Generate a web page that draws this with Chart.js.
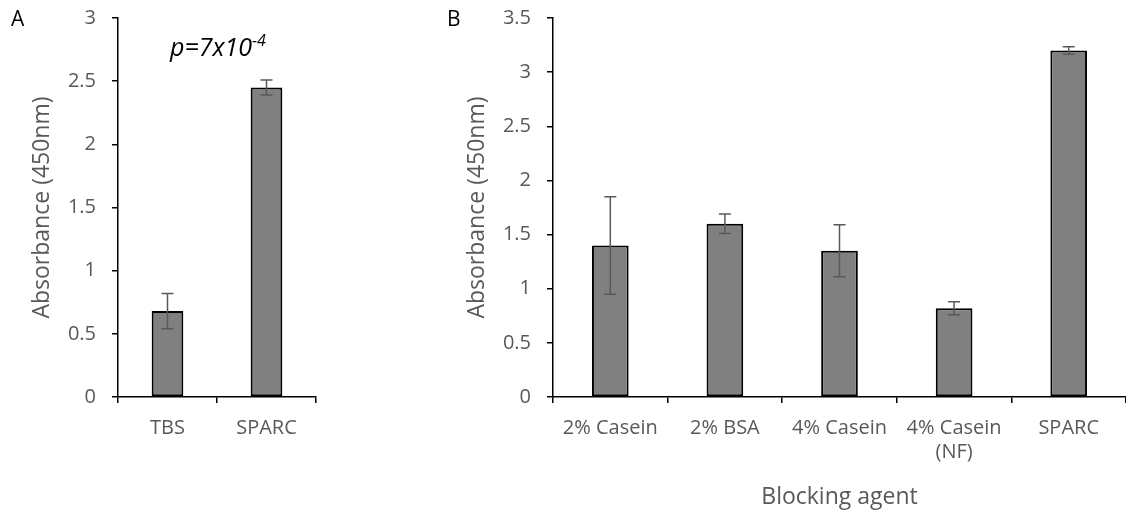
<!DOCTYPE html>
<html>
<head>
<meta charset="utf-8">
<script src="https://cdn.jsdelivr.net/npm/chart.js@4.4.0/dist/chart.umd.min.js"></script>
<style>
  body { margin: 0; background: #fff; width: 1126px; height: 515px; overflow: hidden; position: relative; font-family: 'Open Sans', sans-serif; }
  .wrap { position: absolute; top: 0; height: 515px; }
  .lbl { position: absolute; color: #000; line-height: 1; white-space: nowrap; }
</style>
</head>
<body>
<div class="wrap" style="left:0; width:330px;"><canvas id="chartA" width="330" height="515"></canvas></div>
<div class="wrap" style="left:440px; width:686px;"><canvas id="chartB" width="686" height="515"></canvas></div>
<div class="lbl" style="left:11px; top:8px; font-size:21px;">A</div>
<div class="lbl" style="left:447px; top:8px; font-size:21px;">B</div>
<div class="lbl" style="left:170px; top:34px; font-size:25px; font-style:italic;">p=7x10<span style="font-size:16px; position:relative; top:-10px;">-4</span></div>
<script>
// data
var catsA = ['TBS', 'SPARC'];
var valsA = [0.68, 2.45];
var errA = [0.14, 0.06];

var catsB = ['2% Casein', '2% BSA', '4% Casein', ['4% Casein', '(NF)'], 'SPARC'];
var valsB = [1.40, 1.60, 1.35, 0.82, 3.20];
var errB = [0.45, 0.09, 0.24, 0.06, 0.035];

var grey = '#595959';

// error bars drawn through the y scale
var errorBars = {
    id: 'errorBars',
    afterDatasetsDraw: function (chart) {
        var ctx = chart.ctx;
        var y = chart.scales.y;
        var errs = chart.options.plugins.errorBars.errors;
        var meta = chart.getDatasetMeta(0);
        var vals = chart.data.datasets[0].data;
        ctx.save();
        ctx.strokeStyle = grey;
        ctx.lineWidth = 1.5;
        meta.data.forEach(function (bar, i) {
            var top = y.getPixelForValue(vals[i] + errs[i]);
            var bot = y.getPixelForValue(vals[i] - errs[i]);
            ctx.beginPath();
            ctx.moveTo(bar.x, top);
            ctx.lineTo(bar.x, bot);
            ctx.moveTo(bar.x - 6, top);
            ctx.lineTo(bar.x + 6, top);
            ctx.moveTo(bar.x - 6, bot);
            ctx.lineTo(bar.x + 6, bot);
            ctx.stroke();
        });
        ctx.restore();
    }
};

function makeChart(id, cats, vals, errs, yMax, yWidth, titlePad, padRight, xTitle) {
    return new Chart(document.getElementById(id), {
        type: 'bar',
        data: {
            labels: cats,
            datasets: [{
                data: vals,
                backgroundColor: '#808080',
                borderColor: '#000',
                borderWidth: 2,
                borderSkipped: false,
                categoryPercentage: 1,
                barPercentage: 0.32
            }]
        },
        options: {
            responsive: false,
            animation: false,
            layout: { padding: { top: 18, right: padRight, left: 0, bottom: 0 } },
            plugins: {
                legend: { display: false },
                tooltip: { enabled: false },
                errorBars: { errors: errs }
            },
            scales: {
                x: {
                    grid: { offset: true, drawOnChartArea: false, color: '#000', lineWidth: 1.5, tickLength: 6 },
                    border: { color: '#000', width: 1.5 },
                    ticks: { color: grey, padding: 13, font: { family: 'Open Sans', size: 20 }, maxRotation: 0 },
                    title: {
                        display: !!xTitle,
                        text: xTitle || '',
                        color: grey,
                        font: { family: 'Open Sans', size: 23 },
                        padding: { top: 0, bottom: 4 }
                    },
                    afterFit: function (s) { s.height = 118; }
                },
                y: {
                    min: 0,
                    max: yMax,
                    ticks: {
                        stepSize: 0.5,
                        color: grey,
                        padding: 16,
                        font: { family: 'Open Sans', size: 20 },
                        callback: function (v) { return String(Number(v.toFixed(1))); }
                    },
                    grid: { drawOnChartArea: false, color: '#000', lineWidth: 1.5, tickLength: 6 },
                    border: { color: '#000', width: 1.5 },
                    title: {
                        display: true,
                        text: 'Absorbance (450nm)',
                        color: grey,
                        font: { family: 'Open Sans', size: 23 },
                        padding: { top: titlePad, bottom: 0 }
                    },
                    afterFit: function (s) {
                        s.width = yWidth;
                        s.paddingTop = 10;
                        s.paddingBottom = 10;
                    }
                }
            }
        },
        plugins: [errorBars]
    });
}

makeChart('chartA', catsA, valsA, errA, 3, 118, 29, 14, null);
makeChart('chartB', catsB, valsB, errB, 3.5, 113, 24, 0, 'Blocking agent');
</script>
</body>
</html>
